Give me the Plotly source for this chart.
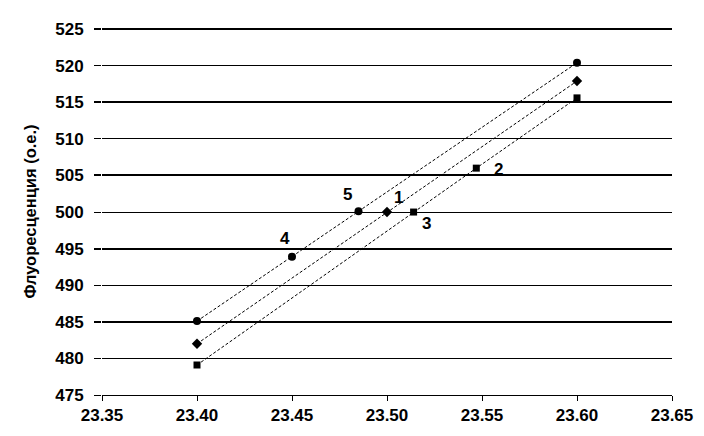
import plotly.graph_objects as go

# Series data (x: temperature-like values, y: fluorescence, a.u.)
x_circle = [23.40, 23.45, 23.485, 23.60]
y_circle = [485.1, 493.9, 500.1, 520.4]
x_diamond = [23.40, 23.50, 23.60]
y_diamond = [482.0, 500.0, 517.9]
x_square = [23.40, 23.514, 23.547, 23.60]
y_square = [479.1, 500.0, 506.0, 515.6]

# Point labels
label_text = ["4", "5", "1", "3", "2"]
label_x = [23.45, 23.485, 23.50, 23.514, 23.547]
label_y = [493.9, 500.1, 500.0, 500.0, 506.0]
label_dx = [-7, -11, 11, 13, 22]
label_dy = [18, 17, 15, -11, -1]

x_ticks = [23.35, 23.40, 23.45, 23.50, 23.55, 23.60, 23.65]
y_ticks = [475, 480, 485, 490, 495, 500, 505, 510, 515, 520, 525]
y_thick = [485, 495, 505, 515, 525]
y_range = [475, 525.15]

FONT = "Liberation Sans, Arial, sans-serif"

fig = go.Figure()
line_style = dict(color="black", width=1, dash="3px,2px")
fig.add_trace(go.Scatter(x=x_circle, y=y_circle, mode="lines+markers",
                         line=line_style,
                         marker=dict(symbol="circle", size=8, color="black")))
fig.add_trace(go.Scatter(x=x_diamond, y=y_diamond, mode="lines+markers",
                         line=line_style,
                         marker=dict(symbol="diamond", size=8, color="black")))
fig.add_trace(go.Scatter(x=x_square, y=y_square, mode="lines+markers",
                         line=line_style,
                         marker=dict(symbol="square", size=7, color="black")))
# invisible trace to anchor the second y axis (thick gridlines)
fig.add_trace(go.Scatter(x=[23.35], y=[480], yaxis="y2", mode="markers",
                         marker=dict(opacity=0), hoverinfo="skip"))

for t, lx, ly, dx, dy in zip(label_text, label_x, label_y, label_dx, label_dy):
    fig.add_annotation(x=lx, y=ly, text=t, showarrow=False, xshift=dx, yshift=dy,
                       font=dict(family=FONT, size=17, color="black", weight="bold"))

fig.update_layout(
    width=696, height=428,
    margin=dict(l=94, r=32, t=20, b=41),
    paper_bgcolor="white", plot_bgcolor="white",
    showlegend=False,
    font=dict(family=FONT, color="black"),
    xaxis=dict(range=[23.35, 23.65], tickvals=x_ticks, automargin=False,
               ticktext=[f"{v:.2f}" for v in x_ticks],
               showgrid=False, zeroline=False,
               showline=True, linecolor="black", linewidth=1,
               ticks="outside", ticklen=5, tickcolor="black",
               tickfont=dict(family=FONT, size=17, color="black", weight="bold")),
    yaxis=dict(range=y_range, tickvals=y_ticks, automargin=False,
               showgrid=True, gridcolor="black", gridwidth=1,
               zeroline=False, showline=False,
               ticks="outside", ticklen=7, tickcolor="black", tickwidth=1,
               ticklabelstandoff=7,
               tickfont=dict(family=FONT, size=17, color="black", weight="bold"),
               title=dict(text="Флуоресценция (о.е.)", standoff=14,
                          font=dict(family=FONT, size=16.5, color="black", weight="bold"))),
    yaxis2=dict(range=y_range, overlaying="y", side="left", tickvals=y_thick,
                automargin=False,
                showgrid=True, gridcolor="black", gridwidth=2,
                zeroline=False, showline=False, showticklabels=False,
                ticks="outside", ticklen=7, tickcolor="black", tickwidth=2),
)

fig.write_html("out.html")
